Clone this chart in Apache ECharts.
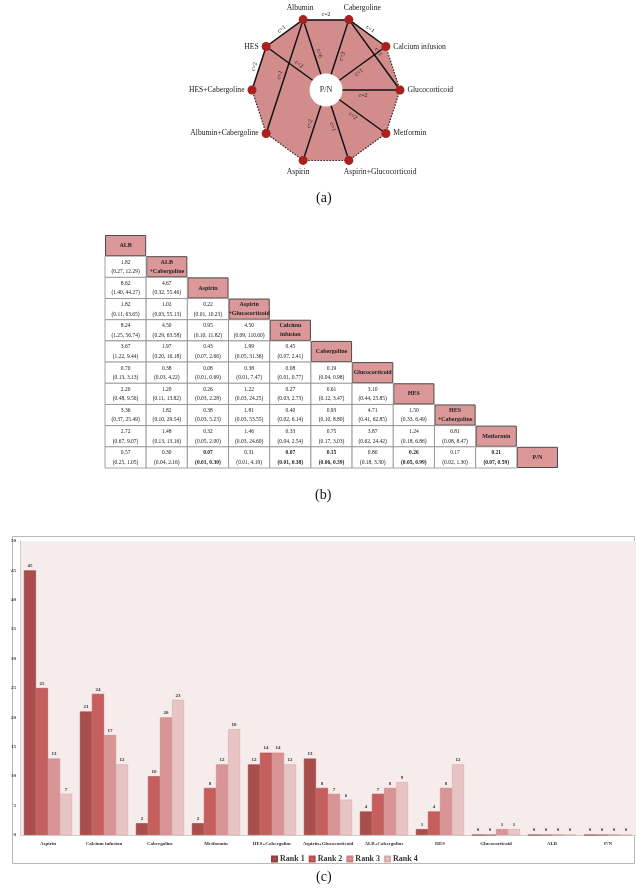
<!DOCTYPE html>
<html><head><meta charset="utf-8">
<script src="https://cdn.jsdelivr.net/npm/echarts@6/dist/echarts.min.js"></script>
<style>html,body{margin:0;padding:0;background:#fff}#c{width:636px;height:888px}</style>
</head><body><div id="c"></div>
<script>
// ---------- (a) network ----------
const netNodes = ['Albumin','Cabergoline','Calcium infusion','Glucocorticoid','Metformin','Aspirin+Glucocorticoid','Aspirin','Albumin+Cabergoline','HES+Cabergoline','HES'];
const netCenter = 'P/N';
const netEdges = [
  ['Albumin','Cabergoline',2],
  ['Albumin','HES',1],
  ['Albumin','P/N',6],
  ['Albumin','Albumin+Cabergoline',1],
  ['HES','P/N',2],
  ['HES','HES+Cabergoline',2],
  ['Cabergoline','Calcium infusion',1],
  ['Cabergoline','Glucocorticoid',1],
  ['Cabergoline','P/N',3],
  ['Calcium infusion','P/N',1],
  ['Glucocorticoid','P/N',2],
  ['Metformin','P/N',2],
  ['Aspirin+Glucocorticoid','P/N',1],
  ['Aspirin','P/N',2]
];
const netDotted = [
  ['Calcium infusion','Glucocorticoid'],
  ['Glucocorticoid','Metformin'],
  ['Metformin','Aspirin+Glucocorticoid'],
  ['Aspirin+Glucocorticoid','Aspirin'],
  ['Aspirin','Albumin+Cabergoline'],
  ['Albumin+Cabergoline','HES+Cabergoline']
];

// ---------- (b) league table ----------
const leagueNames = ['ALB','ALB\n+Cabergoline','Aspirin','Aspirin\n+Glucocorticoid','Calcium\ninfusion','Cabergoline','Glucocorticoid','HES','HES\n+Cabergoline','Metformin','P/N'];
const leagueRows = [
  [],
  [[1.82,0.27,12.29]],
  [[8.62,1.40,44.27],[4.67,0.32,55.46]],
  [[1.82,0.11,63.65],[1.02,0.03,55.13],[0.22,0.01,10.23]],
  [[8.24,1.25,56.74],[4.50,0.29,63.58],[0.95,0.10,11.82],[4.50,0.09,110.60]],
  [[3.67,1.22,9.44],[1.97,0.20,16.18],[0.43,0.07,2.66],[1.99,0.05,31.36],[0.45,0.07,2.41]],
  [[0.70,0.13,3.13],[0.38,0.03,4.22],[0.08,0.01,0.69],[0.38,0.01,7.47],[0.08,0.01,0.77],[0.19,0.04,0.98]],
  [[2.20,0.48,9.56],[1.20,0.11,13.82],[0.26,0.03,2.28],[1.22,0.03,24.25],[0.27,0.03,2.73],[0.61,0.12,3.47],[3.10,0.44,25.85]],
  [[3.36,0.37,25.49],[1.82,0.10,29.54],[0.38,0.03,5.23],[1.81,0.03,53.55],[0.40,0.02,6.14],[0.93,0.10,8.80],[4.71,0.41,62.85],[1.50,0.33,6.49]],
  [[2.72,0.67,9.07],[1.48,0.13,13.16],[0.32,0.05,2.00],[1.46,0.03,24.60],[0.33,0.04,2.54],[0.75,0.17,3.03],[3.87,0.62,24.42],[1.24,0.18,6.86],[0.81,0.08,8.47]],
  [[0.57,0.25,1.05],[0.30,0.04,2.16],[0.07,0.01,0.30],[0.31,0.01,4.19],[0.07,0.01,0.38],[0.15,0.06,0.39],[0.80,0.18,3.30],[0.26,0.05,0.99],[0.17,0.02,1.30],[0.21,0.07,0.59]]
];
const leagueBold = [[10,2],[10,4],[10,5],[10,7],[10,9]];

// ---------- (c) rank probabilities ----------
const rankCats = ['Aspirin','Calcium infusion','Cabergoline','Metformin','HES+Cabergoline','Aspirin+Glucocorticoid','ALB+Cabergoline','HES','Glucocorticoid','ALB','P/N'];
const rank1 = [45,21,2,2,12,13,4,1,0,0,0];
const rank2 = [25,24,10,8,14,8,7,4,0,0,0];
const rank3 = [13,17,20,12,14,7,8,8,1,0,0];
const rank4 = [7,12,23,18,12,6,9,12,1,0,0];
const yTicks = [0,5,10,15,20,25,30,35,40,45,50];

// ---------- build ----------
const SERIF = 'Liberation Serif';
const R = 74;
const netPos = {};
netNodes.forEach((n,i)=>{
  const a = (108 - 36*i) * Math.PI/180;
  netPos[n] = [R*Math.cos(a), R*Math.sin(a)];
});
netPos[netCenter] = [0,0];
// node label placement (style only)
const nodeLabelStyle = {
  'Albumin':{position:'top', offset:[-3,0]},
  'Cabergoline':{position:'top', align:'left', offset:[-5,0]},
  'Calcium infusion':{position:'right'},
  'Glucocorticoid':{position:'right'},
  'Metformin':{position:'right'},
  'Aspirin+Glucocorticoid':{position:'bottom', align:'left', offset:[-5,0]},
  'Aspirin':{position:'bottom', offset:[-5,0]},
  'Albumin+Cabergoline':{position:'left'},
  'HES+Cabergoline':{position:'left'},
  'HES':{position:'left'}
};
// spokes whose count label sits on the lower side of the line
const edgeLabelLower = ['Cabergoline','Calcium infusion','Glucocorticoid','Metformin','Aspirin+Glucocorticoid'];

const graphData = netNodes.map((n,i)=>({
  name:n, value:netPos[n], symbolSize:9,
  itemStyle:{color:'#a8201f'},
  label:Object.assign({show:true, distance:3, fontFamily:SERIF, fontSize:7.6, color:'#1a1a1a'}, nodeLabelStyle[n])
}));
graphData.push({name:netCenter, value:[0,0], symbolSize:33, itemStyle:{color:'#fff'},
  label:{show:true, position:'inside', fontFamily:SERIF, fontSize:8, color:'#222'}});
const graphLinks = netEdges.map(e=>{
  const lower = e[1]===netCenter && edgeLabelLower.indexOf(e[0])>=0;
  return {source:e[0], target:e[1], value:e[2],
    lineStyle:{color:'#111', width:1.5, type:'solid', opacity:1},
    label:{show:true, position: lower?'insideMiddleBottom':'insideMiddleTop', formatter:'c='+e[2],
      fontFamily:SERIF, fontSize:6, color:'#222', distance:2}};
}).concat(netDotted.map(e=>({source:e[0], target:e[1],
  lineStyle:{color:'#222', width:1.2, type:[1.5,1.5], opacity:1}, label:{show:false}})));

// table items
const tableItems = [];
leagueNames.forEach((n,i)=>{ tableItems.push({value:[i,i], kind:'h', text:n}); });
leagueRows.forEach((row,i)=>{
  row.forEach((v,j)=>{
    const bold = leagueBold.some(b=>b[0]===i && b[1]===j);
    tableItems.push({value:[j,i], kind:'c', bold:bold,
      t1:v[0].toFixed(2), t2:'('+v[1].toFixed(2)+', '+v[2].toFixed(2)+')'});
  });
});

const rankColors = ['#a94e4c','#c55e5c','#d99595','#e8c4c4'];
const rankBorders = ['#94403e','#b44e4c','#c98283','#d6a9a9'];
function barSeries(name, data, k){
  return {name:name, type:'bar', xAxisIndex:2, yAxisIndex:2, data:data,
    barGap:'0%', barCategoryGap:'14%',
    itemStyle:{color:rankColors[k], borderColor:rankBorders[k], borderWidth:0.6},
    label:{show:true, position:'top', distance:2, fontFamily:SERIF, fontSize:5, fontWeight:'bold', color:'#333'}};
}

const chart = echarts.init(document.getElementById('c'), null, {renderer:'canvas'});
chart.setOption({
  animation:false,
  backgroundColor:'#fff',
  grid:[
    {left:226, top:0, width:200, height:180},
    {left:105, top:235, width:453, height:233},
    {left:20, top:541, right:0, height:294, show:true, backgroundColor:'#f7ecec', borderWidth:0}
  ],
  xAxis:[
    {gridIndex:0, type:'value', min:-100, max:100, show:false},
    {gridIndex:1, type:'category', data:leagueNames.map((n,i)=>String(i)), show:false},
    {gridIndex:2, type:'category', data:rankCats,
      axisLine:{show:true, lineStyle:{color:'#cfcfcf'}}, axisTick:{show:false},
      axisLabel:{fontFamily:SERIF, fontSize:5, fontWeight:'bold', color:'#333', margin:6, interval:0}}
  ],
  yAxis:[
    {gridIndex:0, type:'value', min:-90, max:90, show:false},
    {gridIndex:1, type:'category', inverse:true, data:leagueNames.map((n,i)=>String(i)), show:false},
    {gridIndex:2, type:'value', min:0, max:50, interval:5,
      axisLine:{show:true, lineStyle:{color:'#cfcfcf'}}, axisTick:{show:false},
      splitLine:{show:false},
      axisLabel:{fontFamily:SERIF, fontSize:5, fontWeight:'bold', color:'#333', margin:4,
        formatter:v=>yTicks.indexOf(v)>=0?String(v):''}}
  ],
  legend:{data:['Rank 1','Rank 2','Rank 3','Rank 4'], left:266, top:850,
    itemWidth:5, itemHeight:5, itemGap:4, icon:'rect',
    textStyle:{fontFamily:SERIF, fontSize:8, fontWeight:'bold', color:'#333', padding:[0,0,0,-2]}},
  graphic:[
    {type:'text', left:316, top:191, style:{text:'(a)', font:'14px "Liberation Serif"', fill:'#111'}},
    {type:'text', left:315, top:488, style:{text:'(b)', font:'14px "Liberation Serif"', fill:'#111'}},
    {type:'text', left:316, top:870, style:{text:'(c)', font:'14px "Liberation Serif"', fill:'#111'}},
    {type:'rect', shape:{x:12.5, y:536.5, width:622, height:327}, style:{fill:'none', stroke:'#b8b8b8', lineWidth:1}, z:-1}
  ],
  series:[
    {type:'custom', xAxisIndex:0, yAxisIndex:0, z:1, data:[[0,0]],
      renderItem:(params, api)=>({type:'polygon',
        shape:{points:netNodes.map(n=>api.coord(netPos[n]))},
        style:{fill:'#d38c8c', stroke:'none'}}), silent:true},
    {type:'graph', coordinateSystem:'cartesian2d', xAxisIndex:0, yAxisIndex:0, z:3,
      data:graphData, links:graphLinks, edgeSymbol:['none','none'],
      edgeLabel:{show:true, fontSize:6, fontFamily:SERIF}},
    {type:'custom', xAxisIndex:1, yAxisIndex:1, data:tableItems, silent:true,
      renderItem:(params, api)=>{
        const it = tableItems[params.dataIndex];
        const c = api.coord([api.value(0), api.value(1)]);
        const s = api.size([1,1]);
        const w = s[0], h = s[1];
        const x0 = c[0]-w/2, y0 = c[1]-h/2;
        if (it.kind==='h'){
          return {type:'group', children:[
            {type:'rect', shape:{x:x0+0.5, y:y0+0.5, width:w-1, height:h-1}, style:{fill:'#dc9899', stroke:'#4a4a4a', lineWidth:1}},
            {type:'text', style:{x:c[0], y:c[1], text:it.text, textAlign:'center', textVerticalAlign:'middle',
              font:'bold 6px "Liberation Serif"', fill:'#222', lineHeight:9}}
          ]};
        }
        const f = (it.bold?'bold ':'')+'5.5px "Liberation Serif"';
        return {type:'group', children:[
          {type:'rect', shape:{x:x0, y:y0, width:w, height:h}, style:{fill:'#fff', stroke:'#8c8c8c', lineWidth:0.8}},
          {type:'text', style:{x:c[0], y:c[1]-4.5, text:it.t1, textAlign:'center', textVerticalAlign:'middle', font:f, fill:'#222'}},
          {type:'text', style:{x:c[0], y:c[1]+5, text:it.t2, textAlign:'center', textVerticalAlign:'middle', font:f, fill:'#222'}}
        ]};
      }},
    barSeries('Rank 1', rank1, 0),
    barSeries('Rank 2', rank2, 1),
    barSeries('Rank 3', rank3, 2),
    barSeries('Rank 4', rank4, 3)
  ]
});
</script></body></html>
